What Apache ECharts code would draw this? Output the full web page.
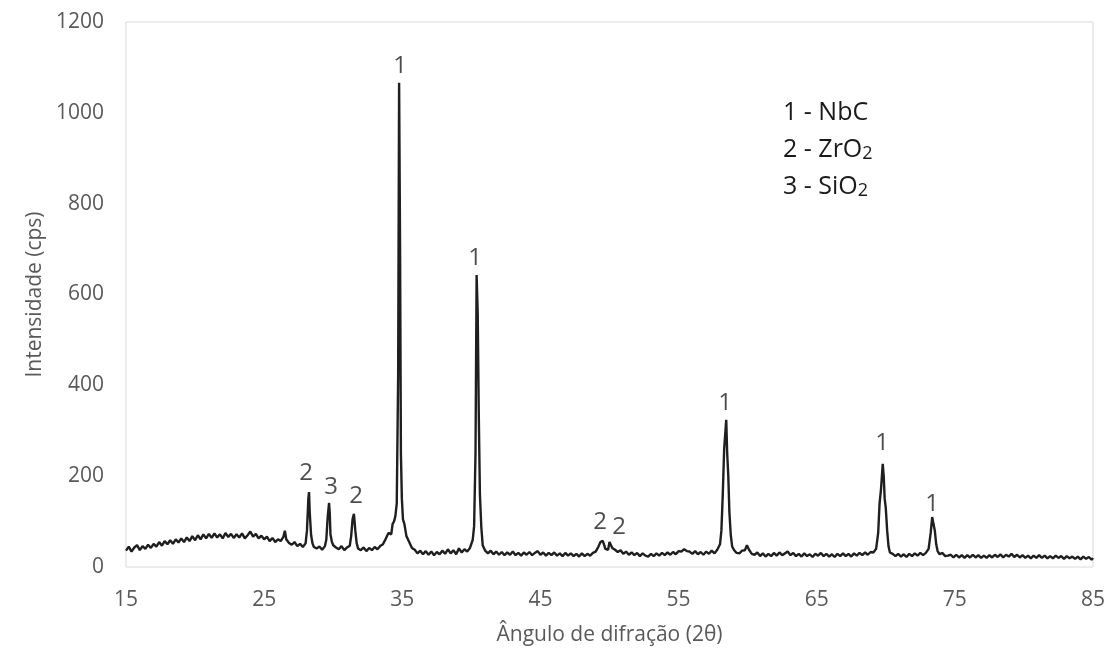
<!DOCTYPE html>
<html>
<head>
<meta charset="utf-8">
<script src="https://cdn.jsdelivr.net/npm/echarts@6/dist/echarts.min.js"></script>
<style>html,body{margin:0;padding:0;background:#fff}#c{width:1110px;height:657px}</style>
</head>
<body>
<div id="c"></div>
<script>
// XRD pattern: [2theta, intensity]
const pattern = [
[15.0,36],[15.2,45],[15.4,34],[15.6,43],[15.8,48],[16.0,37],[16.2,46],[16.4,40],[16.6,49],[16.8,42],
[17.0,51],[17.2,45],[17.4,55],[17.6,47],[17.8,57],[18.0,50],[18.2,59],[18.4,51],[18.6,61],[18.8,54],
[19.0,63],[19.2,55],[19.4,65],[19.6,57],[19.8,68],[20.0,59],[20.2,70],[20.4,61],[20.6,72],[20.8,63],
[21.0,73],[21.2,64],[21.4,74],[21.6,65],[21.8,72],[22.0,63],[22.2,75],[22.4,66],[22.6,73],[22.8,64],
[23.0,72],[23.2,65],[23.4,74],[23.6,63],[23.8,70],[24.0,78],[24.2,67],[24.4,73],[24.6,63],[24.8,69],
[25.0,61],[25.2,67],[25.4,57],[25.6,64],[25.8,55],[26.0,61],[26.2,57],[26.4,67],[26.5,80],[26.6,61],
[26.8,53],[27.0,49],[27.2,55],[27.4,46],[27.6,51],[27.8,44],[28.0,52],
[28.1,80],[28.2,150],[28.25,165],[28.3,120],[28.4,70],[28.5,52],[28.6,44],[28.8,41],[29.0,45],[29.2,38],
[29.4,46],[29.5,60],[29.6,110],[29.7,141],[29.75,118],[29.8,72],[29.9,56],[30.0,48],[30.2,43],[30.4,39],
[30.6,46],[30.8,37],[31.0,43],[31.2,47],[31.3,68],[31.4,105],[31.5,117],[31.6,80],[31.7,52],[31.8,41],
[32.0,37],[32.2,43],[32.4,35],[32.6,42],[32.8,37],[33.0,44],[33.2,39],[33.4,46],[33.6,50],[33.8,62],
[34.0,75],[34.2,72],[34.3,95],[34.4,100],[34.5,112],[34.6,140],[34.7,420],[34.77,1066],[34.84,700],[34.9,250],
[34.97,150],[35.05,105],[35.15,95],[35.3,68],[35.5,55],[35.7,42],[35.9,38],[36.1,30],[36.3,36],[36.5,28],
[36.7,35],[36.9,27],[37.1,34],[37.3,26],[37.5,33],[37.7,28],[37.9,36],[38.1,29],[38.3,39],[38.5,30],
[38.7,37],[38.9,28],[39.1,41],[39.3,32],[39.5,39],[39.7,34],[39.9,42],[40.1,60],[40.2,90],[40.3,250],
[40.38,643],[40.46,560],[40.54,330],[40.62,160],[40.72,88],[40.82,48],[41.0,36],[41.2,30],[41.4,36],[41.6,28],
[41.8,34],[42.0,27],[42.2,33],[42.4,26],[42.6,32],[42.8,27],[43.0,34],[43.2,26],[43.4,31],[43.6,25],
[43.8,32],[44.0,27],[44.2,33],[44.4,26],[44.6,31],[44.8,35],[45.0,27],[45.2,32],[45.4,25],[45.6,31],
[45.8,26],[46.0,32],[46.2,25],[46.4,30],[46.6,24],[46.8,31],[47.0,25],[47.2,30],[47.4,24],[47.6,29],
[47.8,23],[48.0,30],[48.2,24],[48.4,29],[48.6,25],[48.8,31],[49.0,34],[49.2,45],[49.35,55],[49.5,58],
[49.6,50],[49.7,40],[49.8,36],[49.9,38],[50.0,55],[50.1,52],[50.2,42],[50.4,38],[50.6,33],[50.8,37],
[51.0,29],[51.2,34],[51.4,27],[51.6,32],[51.8,26],[52.0,31],[52.2,24],[52.4,30],[52.6,25],[52.8,23],
[53.0,29],[53.2,24],[53.4,30],[53.6,25],[53.8,31],[54.0,26],[54.2,32],[54.4,27],[54.6,33],[54.8,28],
[55.0,35],[55.2,34],[55.4,39],[55.6,35],[55.8,34],[56.0,29],[56.2,35],[56.4,28],[56.6,33],[56.8,27],
[57.0,34],[57.2,29],[57.4,36],[57.6,30],[57.8,38],[58.0,50],[58.1,80],[58.2,160],[58.3,260],[58.45,324],
[58.52,250],[58.6,200],[58.68,120],[58.78,70],[58.88,45],[59.0,38],[59.2,31],[59.4,30],[59.6,36],[59.8,37],
[59.95,48],[60.1,38],[60.3,29],[60.5,27],[60.7,32],[60.9,24],[61.1,30],[61.3,23],[61.5,29],[61.7,24],
[61.9,31],[62.1,25],[62.3,32],[62.5,26],[62.7,30],[62.9,34],[63.1,26],[63.3,31],[63.5,24],[63.7,29],
[63.9,23],[64.1,30],[64.3,24],[64.5,28],[64.7,22],[64.9,29],[65.1,25],[65.3,31],[65.5,24],[65.7,29],
[65.9,23],[66.1,28],[66.3,22],[66.5,29],[66.7,24],[66.9,30],[67.1,24],[67.3,29],[67.5,23],[67.7,30],
[67.9,25],[68.1,31],[68.3,26],[68.5,32],[68.7,27],[68.9,33],[69.1,32],[69.3,40],[69.45,75],[69.55,140],
[69.65,170],[69.78,227],[69.85,200],[69.92,150],[70.0,130],[70.1,80],[70.2,45],[70.3,32],[70.5,29],[70.7,24],
[70.9,29],[71.1,23],[71.3,28],[71.5,22],[71.7,29],[71.9,24],[72.1,30],[72.3,25],[72.5,31],[72.7,26],
[72.9,31],[73.1,40],[73.25,75],[73.36,110],[73.45,95],[73.55,80],[73.65,50],[73.75,35],[73.9,28],[74.1,31],
[74.3,24],[74.5,25],[74.7,27],[74.9,21],[75.1,27],[75.3,21],[75.5,26],[75.7,20],[75.9,26],[76.1,21],
[76.3,27],[76.5,21],[76.7,26],[76.9,20],[77.1,25],[77.3,20],[77.5,26],[77.7,21],[77.9,27],[78.1,22],
[78.3,28],[78.5,21],[78.7,27],[78.9,23],[79.1,29],[79.3,22],[79.5,27],[79.7,21],[79.9,26],[80.1,20],
[80.3,25],[80.5,19],[80.7,25],[80.9,20],[81.1,26],[81.3,20],[81.5,25],[81.7,19],[81.9,24],[82.1,19],
[82.3,25],[82.5,20],[82.7,24],[82.9,18],[83.1,24],[83.3,19],[83.5,23],[83.7,18],[83.9,23],[84.1,17],
[84.3,23],[84.5,18],[84.7,22],[84.9,16],[85.0,20]
];

// Peak labels: [2theta, intensity (text centre), phase number]
const peakLabels = [
[34.85,1103,'1'],[40.27,681,'1'],[28.03,207,'2'],[29.84,176,'3'],[31.65,156,'2'],
[49.32,99,'2'],[50.70,88,'2'],[58.37,361,'1'],[69.74,273,'1'],[73.36,139,'1']
];

const legendLines = [['1 - NbC',''],['2 - ZrO','2'],['3 - SiO','2']];

const xTicks = {min:15, max:85, interval:10};
const yTicks = {min:0, max:1200, interval:200};

const FONT = 'Open Sans';
const chart = echarts.init(document.getElementById('c'), null, {renderer:'canvas'});

const graphics = legendLines.map((l,i)=>({
  type:'text', left:783, top:100 + i*37,
  style:{
    text:'{a|'+l[0]+'}{s|'+l[1]+'}',
    rich:{
      a:{fontFamily:FONT, fontSize:25, fill:'#1a1a1a', lineHeight:32},
      s:{fontFamily:FONT, fontSize:18, fill:'#1a1a1a', lineHeight:32, padding:[8,0,0,0]}
    }
  }
}));

chart.setOption({
  animation:false,
  backgroundColor:'#ffffff',
  grid:{left:126, right:17, top:22, bottom:90, show:true, borderColor:'#d9d9d9', borderWidth:1, containLabel:false},
  xAxis:{
    type:'value', min:xTicks.min, max:xTicks.max, interval:xTicks.interval,
    name:'Ângulo de difração (2θ)', nameLocation:'middle', nameGap:58,
    nameTextStyle:{fontFamily:FONT, fontSize:21, color:'#595959'},
    axisLine:{show:false}, axisTick:{show:false}, splitLine:{show:false},
    axisLabel:{fontFamily:FONT, fontSize:21, color:'#595959', margin:23}
  },
  yAxis:{
    type:'value', min:yTicks.min, max:yTicks.max, interval:yTicks.interval,
    name:'Intensidade (cps)', nameLocation:'middle', nameGap:76, nameRotate:90,
    nameTextStyle:{fontFamily:FONT, fontSize:21, color:'#595959'},
    axisLine:{show:false}, axisTick:{show:false}, splitLine:{show:false},
    axisLabel:{fontFamily:FONT, fontSize:21, color:'#595959', margin:22, formatter:v=>String(v)}
  },
  series:[
    {type:'line', data:pattern, showSymbol:false, symbol:'none',
     lineStyle:{color:'#1f1f1f', width:2.4}, z:3},
    {type:'scatter', data:peakLabels, symbolSize:0, silent:true,
     label:{show:true, position:'inside', formatter:p=>p.data[2],
            fontFamily:FONT, fontSize:24, color:'#1f1f1f'}, z:4}
  ],
  graphic:graphics
});
</script>
</body>
</html>
